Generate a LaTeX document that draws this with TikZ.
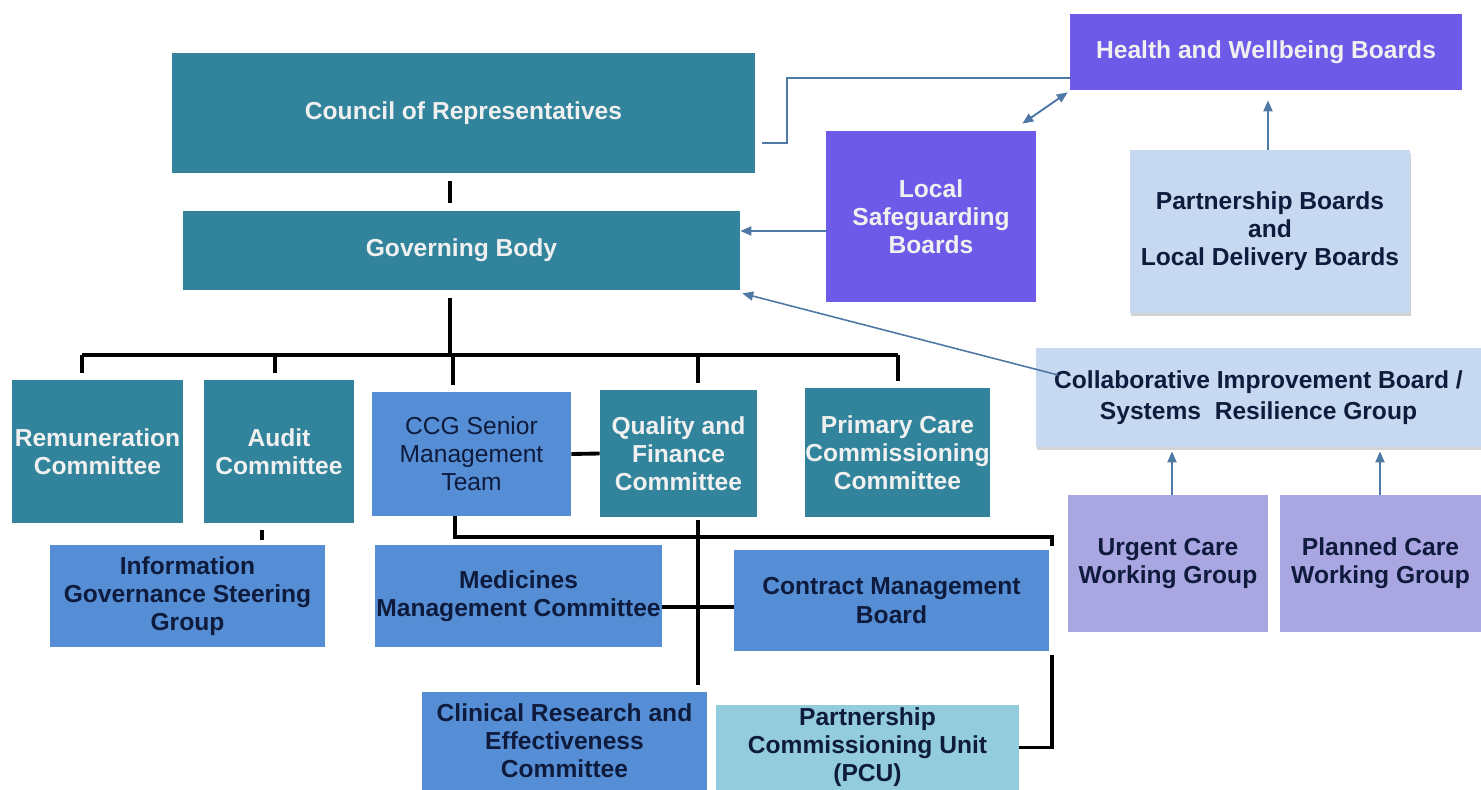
\documentclass[tikz,border=0pt]{standalone}
\usepackage{fontspec}
\setmainfont{Liberation Sans}
\usetikzlibrary{calc,positioning,arrows.meta,shadows}
\definecolor{tealbg}{RGB}{49,132,155}
\definecolor{purplebg}{RGB}{110,90,232}
\definecolor{bluebg}{RGB}{85,142,213}
\definecolor{palebg}{RGB}{198,217,241}
\definecolor{lilacbg}{RGB}{170,166,226}
\definecolor{aquabg}{RGB}{147,205,221}
\definecolor{navytext}{RGB}{15,27,60}
\definecolor{linkc}{RGB}{80,120,165}

\begin{document}
\begin{tikzpicture}%
  [x=0.02cm, y=-0.02cm, node font=\bfseries\fontsize{14}{16}\selectfont,
   box/.style={rectangle, align=center, inner sep=0pt},
   tealbox/.style={box, fill=tealbg, text=white!94!black},
   purplebox/.style={box, fill=purplebg, text=white!94!black},
   bluebox/.style={box, fill=bluebg, text=navytext},
   palebox/.style={box, fill=palebg, text=navytext,
     drop shadow={opacity=0.35, shadow xshift=0.4pt, shadow yshift=-1.6pt}},
   lilacbox/.style={box, fill=lilacbg, text=navytext},
   aquabox/.style={box, fill=aquabg, text=navytext},
   bus/.style={line width=2.2pt, black},
   link/.style={line width=1.1pt, linkc},
   arr/.style={link, -{Triangle[length=0.22cm,width=0.18cm]}}]

  \useasboundingbox (0,0) rectangle (1481,790);

  % top of the tree
  \node (council) at (463.5,113) [tealbox, minimum width=11.66cm, minimum height=2.40cm]
        {Council of Representatives};
  \node (gov) at (461.5,250.5) [tealbox, minimum width=11.14cm, minimum height=1.58cm]
        {Governing Body};

  % boards on the right
  \node (hwb) at (1266,52) [purplebox, minimum width=7.84cm, minimum height=1.52cm]
        {Health and Wellbeing Boards};
  \node (lsb) at (931,216.5) [purplebox, minimum width=4.20cm, minimum height=3.42cm]
        {Local\\Safeguarding\\Boards};
  \node (pdb) at (1270,231.5) [palebox, minimum width=5.60cm, minimum height=3.26cm]
        {Partnership Boards\\and\\Local Delivery Boards};
  \node (cib) at (1258.5,397.5) [palebox, minimum width=8.90cm, minimum height=1.98cm,
        font=\bfseries\fontsize{14}{18}\selectfont]
        {Collaborative Improvement Board /\\Systems~ Resilience Group};
  \node (urgent) at (1168,563.5) [lilacbox, minimum width=4.00cm, minimum height=2.74cm]
        {Urgent Care\\Working Group};
  \node (planned) at (1380.5,563.5) [lilacbox, minimum width=4.02cm, minimum height=2.74cm]
        {Planned Care\\Working Group};

  % committees
  \node (remun) at (97.5,451.5) [tealbox, minimum width=3.42cm, minimum height=2.86cm]
        {Remuneration\\Committee};
  \node (audit) at (279,451.5) [tealbox, minimum width=3.00cm, minimum height=2.86cm]
        {Audit\\Committee};
  \node (ccg) at (471.5,454) [bluebox, minimum width=3.98cm, minimum height=2.48cm,
        font=\mdseries\fontsize{14}{16}\selectfont]
        {CCG Senior\\Management\\Team};
  \node (quality) at (678.5,453.5) [tealbox, minimum width=3.14cm, minimum height=2.54cm]
        {Quality and\\Finance\\Committee};
  \node (primary) at (897.5,452.5) [tealbox, minimum width=3.70cm, minimum height=2.58cm]
        {Primary Care\\Commissioning\\Committee};

  % lower level
  \node (infogov) at (187.5,596) [bluebox, minimum width=5.50cm, minimum height=2.04cm]
        {Information\\Governance Steering\\Group};
  \node (medicines) at (518.5,596) [bluebox, minimum width=5.74cm, minimum height=2.04cm]
        {Medicines\\Management Committee};
  \node (contract) at (891.5,600.5) [bluebox, minimum width=6.30cm, minimum height=2.02cm]
        {Contract Management\\Board};
  \node (clinical) at (564.5,741) [bluebox, minimum width=5.70cm, minimum height=1.96cm]
        {Clinical Research and\\Effectiveness\\Committee};
  \node (pcu) at (867.5,747.5) [aquabox, minimum width=6.06cm, minimum height=1.70cm]
        {Partnership\\Commissioning Unit\\(PCU)};

  % black tree lines
  \coordinate (spine) at (450,355);
  \draw[bus, shorten <=0.16cm, shorten >=0.16cm] (council.south -| spine) -- (gov.north -| spine);
  \draw[bus, shorten <=0.16cm] (gov.south -| spine) -- (spine);
  \draw[bus] (82,355) -- (898,355);
  \foreach \x/\n in {82/remun, 275/audit, 453/ccg, 698/quality, 898/primary}
    \draw[bus, shorten >=0.14cm] (\x,355) -- (\x,0 |- \n.north);
  \draw[bus, shorten <=0.14cm, shorten >=0.10cm] (262,0 |- audit.south) -- (262,0 |- infogov.north);
  \draw[bus] (ccg.east) -- (quality.west);
  \draw[bus, line width=1.9pt] (455,0 |- ccg.south) |- (1052,537) -- (1052,546);
  \draw[bus, line width=1.9pt] (1052,0 |- contract.south) ++(0,4) |- (pcu.east);
  \draw[bus, shorten <=0.06cm, shorten >=0.14cm] (698,0 |- quality.south) -- (698,0 |- clinical.north);
  \draw[bus] (medicines.east |- 0,607) -- (contract.west |- 0,607);

  % thin blue links
  \coordinate (cr) at (762,143);
  \draw[link] (cr) -- (787,143) |- ($(hwb.south west)+(0,-12)$);
  \draw[link, {Triangle[length=0.22cm,width=0.18cm]}-{Triangle[length=0.22cm,width=0.18cm]}]
    ($(lsb.north east)+(-14,-7)$) -- ($(hwb.south west)+(-2,2)$);
  \draw[arr] (lsb.west |- 0,231) -- (gov.east |- 0,231);
  \draw[arr, shorten >=0.2cm] (1268,0 |- pdb.north) -- (1268,0 |- hwb.south);
  \coordinate (cibin) at (1058,375);
  \draw[arr, line width=0.9pt] (cibin) -- ($(gov.south east)+(2,3)$);
  \draw[arr, shorten >=0.08cm] (1172,0 |- urgent.north) -- (1172,0 |- cib.south);
  \draw[arr, shorten >=0.08cm] (1380,0 |- planned.north) -- (1380,0 |- cib.south);

\end{tikzpicture}
\end{document}
